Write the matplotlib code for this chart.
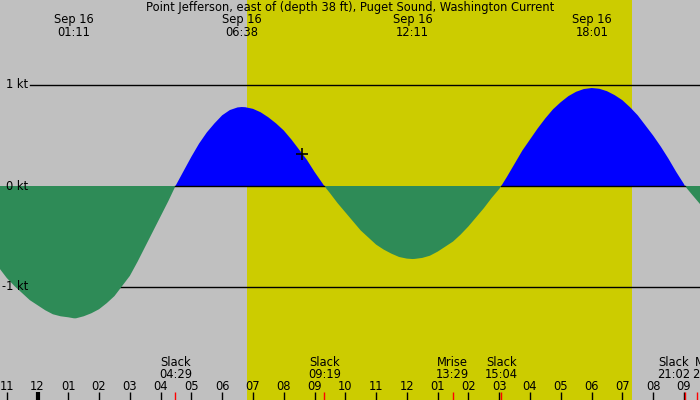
import matplotlib
matplotlib.use("Agg")
import matplotlib.pyplot as plt
import matplotlib.transforms as mtransforms
import numpy as np

station = "Point Jefferson, east of (depth 38 ft), Puget Sound, Washington Current"

# current prediction, hours after midnight Sep 16 (knots, + = flood)
hours = [-1.5, -1.25, -1.0, -0.75, -0.5, -0.25, 0.0, 0.25, 0.5, 0.75, 1.0, 1.183, 1.25,
         1.5, 1.75, 2.0, 2.25, 2.5, 2.75, 3.0, 3.25, 3.5, 3.75, 4.0, 4.25, 4.483,
         4.75, 5.0, 5.25, 5.5, 5.75, 6.0, 6.25, 6.5, 6.633, 6.75,
         7.0, 7.25, 7.5, 7.75, 8.0, 8.25, 8.5, 8.75, 9.0, 9.25, 9.317,
         9.5, 9.75, 10.0, 10.25, 10.5, 10.75, 11.0, 11.25, 11.5, 11.75, 12.0, 12.183, 12.25,
         12.5, 12.75, 13.0, 13.25, 13.5, 13.75, 14.0, 14.25, 14.5, 14.75, 15.0, 15.067,
         15.25, 15.5, 15.75, 16.0, 16.25, 16.5, 16.75, 17.0, 17.25, 17.5, 17.75, 18.0, 18.017,
         18.25, 18.5, 18.75, 19.0, 19.25, 19.5, 19.75, 20.0, 20.25, 20.5, 20.75, 21.0, 21.033,
         21.25, 21.5, 21.75, 22.0]
knots = [-0.72, -0.81, -0.91, -0.99, -1.06, -1.13, -1.18, -1.23, -1.27, -1.29, -1.30, -1.31, -1.31,
         -1.29, -1.26, -1.22, -1.16, -1.09, -0.99, -0.89, -0.75, -0.60, -0.45, -0.30, -0.15, 0.0,
         0.15, 0.29, 0.42, 0.53, 0.62, 0.70, 0.752, 0.778, 0.782, 0.780,
         0.764, 0.73, 0.68, 0.62, 0.55, 0.46, 0.36, 0.26, 0.14, 0.03, 0.0,
         -0.07, -0.17, -0.26, -0.35, -0.44, -0.51, -0.58, -0.63, -0.67, -0.703, -0.719, -0.723, -0.722,
         -0.712, -0.69, -0.65, -0.60, -0.55, -0.48, -0.40, -0.31, -0.22, -0.12, -0.03, 0.0,
         0.09, 0.22, 0.35, 0.46, 0.57, 0.67, 0.76, 0.83, 0.89, 0.933, 0.960, 0.970, 0.970,
         0.963, 0.939, 0.90, 0.85, 0.78, 0.70, 0.60, 0.50, 0.39, 0.27, 0.14, 0.02, 0.0,
         -0.08, -0.17, -0.26, -0.35]

peak_day = "Sep 16"
peak_times = ["01:11", "06:38", "12:11", "18:01"]

event_names = ["Slack", "Slack", "Mrise", "Slack", "Slack", "Mset"]
event_times = ["04:29", "09:19", "13:29", "15:04", "21:02", "21:25"]

sunrise = "06:48"
sunset = "19:18"
now_time = "08:36"
now_knots = 0.32

kt_levels = [1, 0, -1]
kt_labels = ["1 kt", "0 kt", "-1 kt"]


def to_h(s):
    hh, mm = s.split(":")
    return int(hh) + int(mm) / 60.0


W, H = 700, 400
px_per_h = 30.78
x0 = 37.5          # pixel of midnight
px_per_kt = 101.0
y0 = 186.0         # pixel of 0 kt

fig = plt.figure(figsize=(7, 4), dpi=100, facecolor="#c0c0c0")
ax = fig.add_axes([0, 0, 1, 1])
ax.set_axis_off()
ax.set_xlim((0 - x0) / px_per_h, (W - x0) / px_per_h)
ax.set_ylim((y0 - H) / px_per_kt, y0 / px_per_kt)

xdata_yaxes = mtransforms.blended_transform_factory(ax.transData, ax.transAxes)
xaxes_ydata = mtransforms.blended_transform_factory(ax.transAxes, ax.transData)


def fy(py):
    return 1 - py / H


fs = 8.3

# daylight
ax.axvspan(to_h(sunrise), to_h(sunset), color="#cccc00", lw=0, zorder=0)

# kt grid lines and labels
for lev, lab in zip(kt_levels, kt_labels):
    if lev != 0:
        ax.axhline(lev, xmin=30 / W, xmax=1, color="black", lw=1, zorder=1)
    ax.text(28 / W, lev, lab, transform=xaxes_ydata, ha="right", va="center",
            fontsize=fs, zorder=5)

h = np.array(hours)
k = np.array(knots)
ax.fill_between(h, k, 0, where=k >= 0, color="#0000ff", lw=0, interpolate=True, zorder=2)
ax.fill_between(h, k, 0, where=k <= 0, color="#2e8b57", lw=0, interpolate=True, zorder=2)
zero_line = np.where(k >= 0, 0.0, np.nan)
ax.plot(h, zero_line, color="black", lw=1, zorder=3)

ax.plot([to_h(now_time)], [now_knots], marker="+", color="black", ms=9, mew=1.2, zorder=4)

# title and peak labels
ax.text(0.5, fy(7.5), station, transform=ax.transAxes, ha="center", va="center", fontsize=fs)
for t in peak_times:
    ax.text(to_h(t), fy(19.5), peak_day, transform=xdata_yaxes, ha="center", va="center", fontsize=fs)
    ax.text(to_h(t), fy(32), t, transform=xdata_yaxes, ha="center", va="center", fontsize=fs)

# hour ticks
for hr in range(-1, 23):
    lab = "%02d" % (((hr - 1) % 12) + 1)
    ax.text(hr, fy(386), lab, transform=xdata_yaxes, ha="center", va="center", fontsize=fs)
    lw = 3 if hr == 0 else 1
    ax.plot([hr, hr], [fy(392), 0], transform=xdata_yaxes, color="black", lw=lw,
            solid_capstyle="butt", zorder=6)

# event labels, pushed apart when they crowd
ev_px = [x0 + to_h(t) * px_per_h for t in event_times]
lab_px = list(ev_px)
min_gap = 35
for i in range(1, len(lab_px)):
    gap = lab_px[i] - lab_px[i - 1]
    if gap < min_gap:
        shift = (min_gap - gap) / 2
        lab_px[i - 1] -= shift
        lab_px[i] += shift
for name, t, lp in zip(event_names, event_times, lab_px):
    hx = to_h(t)
    lx = (lp - x0) / px_per_h
    ax.text(lx, fy(362), name, transform=xdata_yaxes, ha="center", va="center", fontsize=fs)
    ax.text(lx, fy(374), t, transform=xdata_yaxes, ha="center", va="center", fontsize=fs)
    ax.plot([hx, hx], [fy(392), 0], transform=xdata_yaxes, color="red", lw=1,
            solid_capstyle="butt", zorder=7)

fig.savefig("out.png", dpi=100, facecolor=fig.get_facecolor())
